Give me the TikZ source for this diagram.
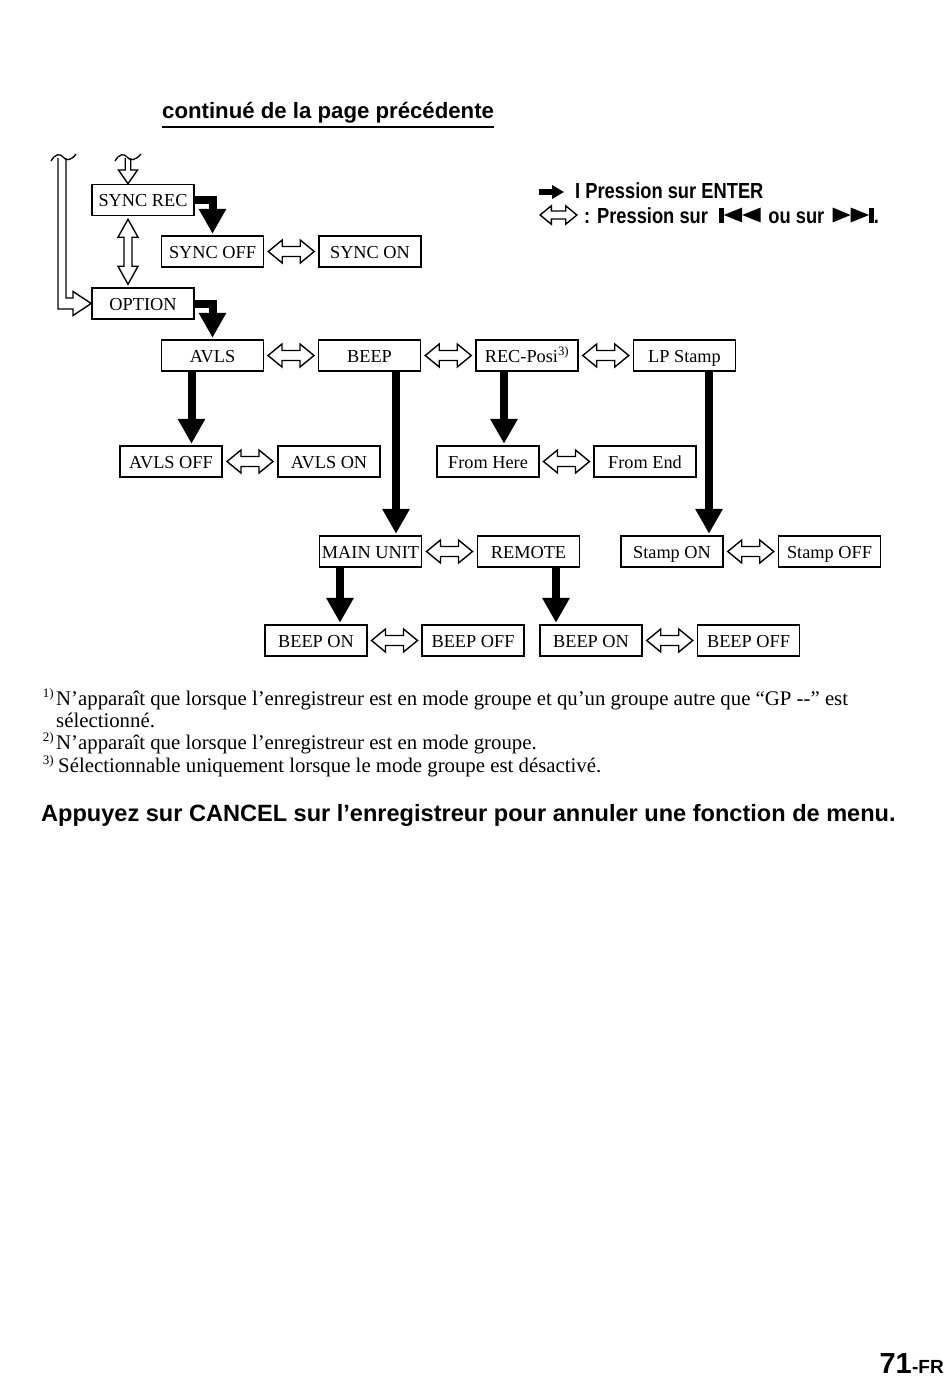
\documentclass[tikz,border=0pt]{standalone}
\usepackage{fontspec}
\setmainfont{Liberation Serif}
\setsansfont{Liberation Sans}
\newfontfamily\condfont[FakeStretch=0.84]{Liberation Sans}
\usetikzlibrary{arrows.meta,calc}

\begin{document}
\begin{tikzpicture}[x=1pt,y=-1pt,
    menubox/.style ={draw, line width=1.5pt, minimum width=102pt, minimum height=31pt, inner sep=0pt, text height=13pt, text depth=0pt, font=\fontsize{18.3}{20}\selectfont},
    enter/.style ={line width=8pt, line join=miter, -{Triangle[width=26pt,length=25pt]}, shorten >=1.5pt},
    hollow/.style ={line width=1.4pt, line join=miter, fill=white},
    note/.style ={anchor=base west, inner sep=0pt, font=\fontsize{20.8}{24}\selectfont},
    legend/.style ={anchor=base west, inner sep=0pt, font=\condfont\bfseries\fontsize{21.8}{24}\selectfont},
    toggle/.pic ={\draw[hollow] (-23,0) -- (-9,-11.5) -- (-9,-5) -- (9,-5) -- (9,-11.5) -- (23,0) -- (9,11.5) -- (9,5) -- (-9,5) -- (-9,11.5) -- cycle;},
    updown/.pic ={\draw[hollow] (0,-32.5) -- (10,-14.5) -- (4,-14.5) -- (4,14.5) -- (10,14.5) -- (0,32.5) -- (-10,14.5) -- (-4,14.5) -- (-4,-14.5) -- (-10,-14.5) -- cycle;}]
   \useasboundingbox[fill=white] (0,0) rectangle (950,1378);

   % heading
   \node[anchor=base west, inner sep=0pt, font=\sffamily\bfseries\fontsize{22.2}{24}\selectfont] (heading) at (162,119) {continué de la page précédente};
   \draw[line width=2pt] ([yshift=-8.5pt]heading.base west) -- ([yshift=-8.5pt]heading.base east);

   % legend
   \node[legend] (legEnter) at (575,198) {I Pression sur ENTER};
   \fill ([xshift=-36pt,yshift=3pt]legEnter.base west) rectangle ([xshift=-23pt,yshift=9pt]legEnter.base west);
   \fill ([xshift=-23pt,yshift=-1pt]legEnter.base west) -- ([xshift=-11pt,yshift=6pt]legEnter.base west) -- ([xshift=-23pt,yshift=13pt]legEnter.base west) -- cycle;
   \node[legend] (legSkip) at (584,223) {: Pression sur};
   \pic[scale=0.8] at ([xshift=-25.5pt,yshift=8pt]legSkip.base west) {toggle};
   \begin{scope}[shift={(legSkip.base east)}]
     \fill (11,-15.5) rectangle (15.5,-0.5);
     \fill (15.5,-8) -- (34,-15.5) -- (34,-0.5) -- cycle;
     \fill (34,-8) -- (52.5,-15.5) -- (52.5,-0.5) -- cycle;
   \end{scope}
   \node[legend] (legOr) at ([xshift=60pt]legSkip.base east) {ou sur};
   \begin{scope}[shift={(legOr.base east)}]
     \fill (8,-15.5) -- (26,-8) -- (8,-0.5) -- cycle;
     \fill (26,-15.5) -- (44.5,-8) -- (26,-0.5) -- cycle;
     \fill (44.5,-15.5) rectangle (49,-0.5);
   \end{scope}
   \node[legend] (legDot) at ([xshift=49pt]legOr.base east) {.};

   % menu boxes
   \node[menubox] (SYNCREC) at (143,200) {SYNC REC};
   \node[menubox] (OPTION) at (143,303.5) {OPTION};
   \node[menubox] (SYNCOFF) at (212.5,251.5) {SYNC OFF};
   \node[menubox] (SYNCON) at (370,251.5) {SYNC ON};
   \node[menubox] (AVLS) at (212.5,355.5) {AVLS};
   \node[menubox] (BEEP) at (369.5,355.5) {BEEP};
   \node[menubox] (RECPosi) at (527,355.5) {REC-Posi\textsuperscript{3)}};
   \node[menubox] (LPStamp) at (684.5,355.5) {LP Stamp};
   \node[menubox] (AVLSOFF) at (171,461.5) {AVLS OFF};
   \node[menubox] (AVLSON) at (329,461.5) {AVLS ON};
   \node[menubox] (FromHere) at (488,461.5) {From Here};
   \node[menubox] (FromEnd) at (645,461.5) {From End};
   \node[menubox] (MAINUNIT) at (370.5,551.5) {MAIN UNIT};
   \node[menubox] (REMOTE) at (528.5,551.5) {REMOTE};
   \node[menubox] (StampON) at (672,551.5) {Stamp ON};
   \node[menubox] (StampOFF) at (829.5,551.5) {Stamp OFF};
   \node[menubox] (BEEPONa) at (316,640.5) {BEEP ON};
   \node[menubox] (BEEPOFFa) at (473,640.5) {BEEP OFF};
   \node[menubox] (BEEPONb) at (591,640.5) {BEEP ON};
   \node[menubox] (BEEPOFFb) at (748.5,640.5) {BEEP OFF};

   % incoming hollow arrows
   \draw[hollow] (58,158) -- (58,309) -- (73,309) -- (73,315.5) -- (OPTION.west) -- (73,291.5) -- (73,298) -- (66,298) -- (66,158);
   \draw[line width=1.3pt] (51,161) .. controls (55,154) and (60,153) .. (63,157) .. controls (66,161) and (71,161) .. (76,154);
   \draw[hollow] (125.25,158) -- (125.25,170) -- (118.5,170) -- ([xshift=-15pt]SYNCREC.north) -- (137.5,170) -- (130.75,170) -- (130.75,158);
   \draw[line width=1.3pt] (115,161) .. controls (119,154) and (124,153) .. (127,157) .. controls (130,161) and (135,161) .. (141,154);
   \pic at ($(SYNCREC.south)!.5!(OPTION.north)+(-15,0)$) {updown};

   % ENTER arrows
   \draw[enter] (SYNCREC.east) -| (SYNCOFF.north);
   \draw[enter] (OPTION.east) -| (AVLS.north);
   \draw[enter] ([xshift=-21pt]AVLS.south) -- ([xshift=-21pt]AVLS.south |- AVLSOFF.north);
   \draw[enter] ([xshift=26.5pt]BEEP.south) -- ([xshift=26.5pt]BEEP.south |- MAINUNIT.north);
   \draw[enter] ([xshift=-23pt]RECPosi.south) -- ([xshift=-23pt]RECPosi.south |- FromHere.north);
   \draw[enter] ([xshift=24.5pt]LPStamp.south) -- ([xshift=24.5pt]LPStamp.south |- StampON.north);
   \draw[enter] ([xshift=-30.5pt]MAINUNIT.south) -- ([xshift=-30.5pt]MAINUNIT.south |- BEEPONa.north);
   \draw[enter] ([xshift=27.5pt]REMOTE.south) -- ([xshift=27.5pt]REMOTE.south |- BEEPONb.north);

   % toggle arrows
   \pic at ($(SYNCOFF.east)!.5!(SYNCON.west)$) {toggle};
   \pic at ($(AVLS.east)!.5!(BEEP.west)$) {toggle};
   \pic at ($(BEEP.east)!.5!(RECPosi.west)$) {toggle};
   \pic at ($(RECPosi.east)!.5!(LPStamp.west)$) {toggle};
   \pic at ($(AVLSOFF.east)!.5!(AVLSON.west)$) {toggle};
   \pic at ($(FromHere.east)!.5!(FromEnd.west)$) {toggle};
   \pic at ($(MAINUNIT.east)!.5!(REMOTE.west)$) {toggle};
   \pic at ($(StampON.east)!.5!(StampOFF.west)$) {toggle};
   \pic at ($(BEEPONa.east)!.5!(BEEPOFFa.west)$) {toggle};
   \pic at ($(BEEPONb.east)!.5!(BEEPOFFb.west)$) {toggle};

   % footnotes
   \node[note, anchor=base east, font=\fontsize{13}{14}\selectfont] (fnMarkA) at (54,697) {1)};
   \node[note] (fnA) at (56,705) {N’apparaît que lorsque l’enregistreur est en mode groupe et qu’un groupe autre que “GP {-}{-}” est};
   \node[note] (fnAb) at (56,727) {sélectionné.};
   \node[note, anchor=base east, font=\fontsize{13}{14}\selectfont] (fnMarkB) at (54,741) {2)};
   \node[note] (fnB) at (56,749) {N’apparaît que lorsque l’enregistreur est en mode groupe.};
   \node[note, anchor=base east, font=\fontsize{13}{14}\selectfont] (fnMarkC) at (54,764) {3)};
   \node[note] (fnC) at (58,772) {Sélectionnable uniquement lorsque le mode groupe est désactivé.};

   \node[anchor=base west, inner sep=0pt, font=\sffamily\bfseries\fontsize{23.55}{26}\selectfont] (cancel) at (41,821) {Appuyez sur CANCEL sur l’enregistreur pour annuler une fonction de menu.};

   % page number
   \node[anchor=base east, inner sep=0pt, font=\sffamily\bfseries\fontsize{19}{20}\selectfont] (pageFR) at (944,1373) {-FR};
   \node[anchor=base east, inner sep=0pt, font=\sffamily\bfseries\fontsize{29}{30}\selectfont] (pageNum) at (pageFR.base west) {71};
 \end{tikzpicture}
\end{document}
